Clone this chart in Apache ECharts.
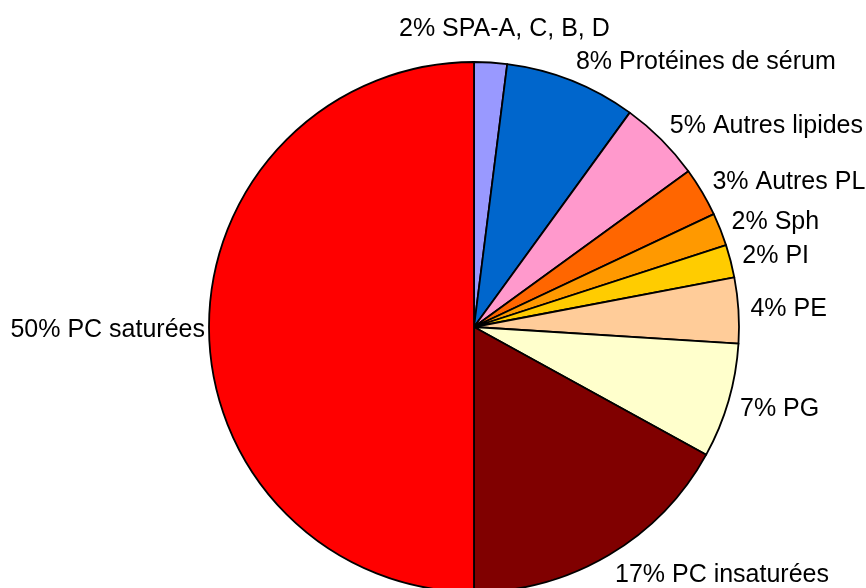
<!DOCTYPE html>
<html>
<head>
<meta charset="utf-8">
<script src="https://cdn.jsdelivr.net/npm/echarts@6/dist/echarts.min.js"></script>
<style>
html,body{margin:0;padding:0;background:#fff;}
#chart{width:866px;height:588px;}
</style>
</head>
<body>
<div id="chart"></div>
<script>
// Data
const categories = ['SPA-A, C, B, D', 'Protéines de sérum', 'Autres lipides', 'Autres PL', 'Sph', 'PI', 'PE', 'PG', 'PC insaturées', 'PC saturées'];
const values = [2, 8, 5, 3, 2, 2, 4, 7, 17, 50];
const colors = ['#9999FF', '#0066CC', '#FF99CC', '#FF6600', '#FF9900', '#FFCC00', '#FFCC99', '#FFFFCC', '#800000', '#FF0000'];

// Layout constants
const CX = 474, CY = 327, R = 265, GAP = 12, GAP_LEFT = 4;

const total = values.reduce((a, b) => a + b, 0);
function midAngleDeg(i) {
  let before = 0;
  for (let k = 0; k < i; k++) before += values[k];
  const frac = (before + values[i] / 2) / total;
  return 90 - frac * 360;
}

const chart = echarts.init(document.getElementById('chart'), null, {renderer: 'canvas'});
chart.setOption({
  backgroundColor: '#ffffff',
  animation: false,
  series: [{
    type: 'pie',
    center: [CX, CY],
    radius: R,
    startAngle: 90,
    clockwise: true,
    avoidLabelOverlap: false,
    data: categories.map((c, i) => ({name: c, value: values[i], itemStyle: {color: colors[i]}})),
    itemStyle: {borderColor: '#000000', borderWidth: 1.8},
    emphasis: {disabled: true},
    label: {
      show: true,
      position: 'outside',
      formatter: p => p.value + '% ' + p.name,
      fontFamily: '"Liberation Sans", Arial, sans-serif',
      fontSize: 25,
      color: '#000000'
    },
    labelLine: {show: false},
    labelLayout: function (p) {
      const i = p.dataIndex;
      const a = midAngleDeg(i) * Math.PI / 180;
      const ux = Math.cos(a), uy = -Math.sin(a);
      const px = CX + R * ux, py = CY + R * uy;
      const h = p.labelRect.height;
      let align, ax, ay;
      if (Math.abs(ux) < 0.2) {
        align = 'center';
        ax = px + ux * GAP + 13;
        ay = py + uy * (GAP + h) + 4;
      } else if (ux > 0) {
        align = 'left';
        ax = px + ux * GAP;
        ay = py + uy * GAP + uy * h * 0.3 + (uy > 0 ? 3 : 0);
      } else {
        align = 'right';
        ax = px + ux * GAP_LEFT;
        ay = py + uy * GAP_LEFT + 3;
      }
      return {x: ax, y: ay, align: align, verticalAlign: 'middle'};
    }
  }]
});
</script>
</body>
</html>
